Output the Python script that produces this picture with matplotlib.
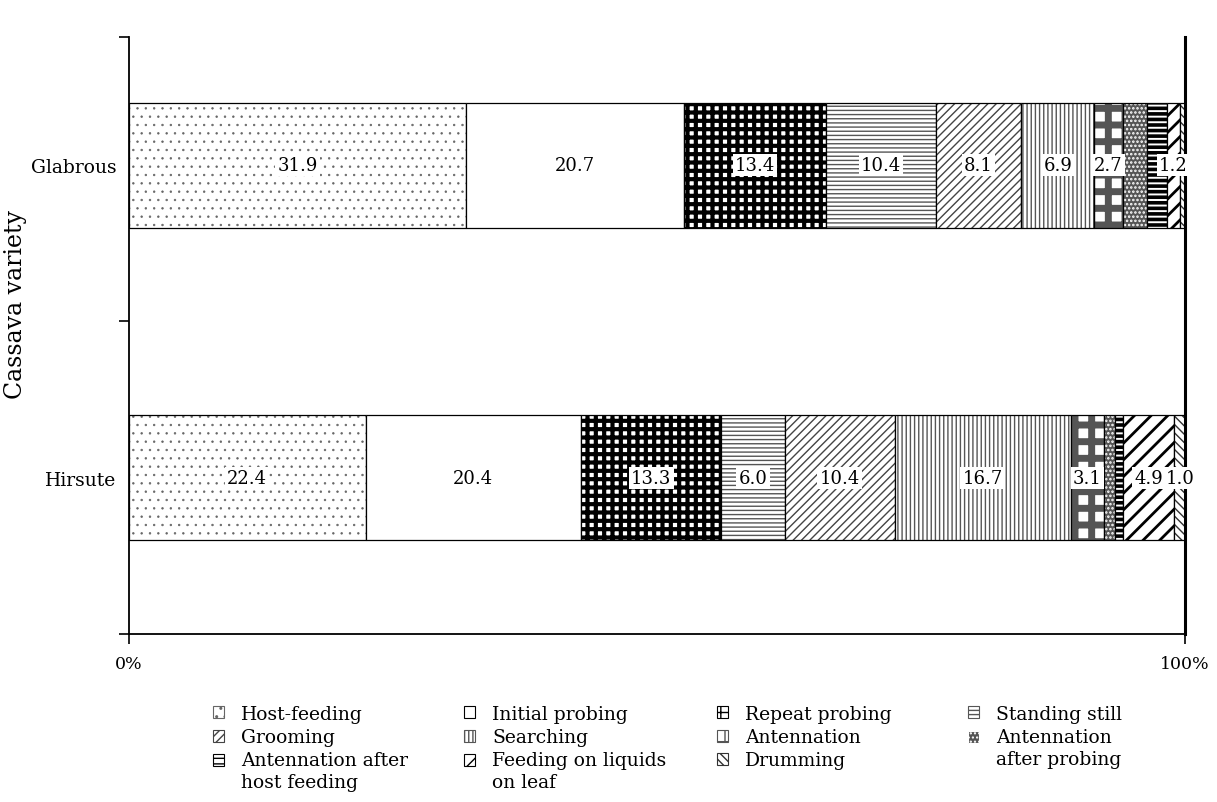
import matplotlib
matplotlib.use('Agg')
import matplotlib.pyplot as plt
from matplotlib.patches import Patch, Rectangle
from matplotlib.legend_handler import HandlerPatch

plt.rcParams['font.family'] = ['DejaVu Serif']

categories = ['Hirsute', 'Glabrous']
behaviours = ['Host-feeding', 'Initial probing', 'Repeat probing', 'Standing still',
              'Grooming', 'Searching', 'Antennation', 'Antennation\nafter probing',
              'Antennation after\nhost feeding', 'Feeding on liquids\non leaf', 'Drumming']
hirsute = [22.4, 20.4, 13.3, 6.0, 10.4, 16.7, 3.1, 1.1, 0.7, 4.9, 1.0]
glabrous = [31.9, 20.7, 13.4, 10.4, 8.1, 6.9, 2.7, 2.3, 1.9, 1.2, 0.5]
hirsute_labels = ['22.4', '20.4', '13.3', '6.0', '10.4', '16.7', '3.1', '', '', '4.9', '1.0']
glabrous_labels = ['31.9', '20.7', '13.4', '10.4', '8.1', '6.9', '2.7', '', '', '1.2', '']
xtick_labels = ['0%', '100%']

# (facecolor, hatchcolor, hatch, hatch linewidth)
styles = [
    ('white', '#666666', '..', 0.5),
    ('white', 'black', None, 1.0),
    ('white', 'black', '++', 3.0),
    ('white', '#555555', '----', 1.0),
    ('white', '#444444', '////', 1.0),
    ('white', '#555555', '||||', 1.0),
    ('white', '#555555', '+', 5.0),
    ('#555555', 'white', '....', 1.2),
    ('white', 'black', '---', 2.6),
    ('white', 'black', '//', 2.0),
    ('white', '#333333', '\\\\\\\\', 1.0),
]

fig = plt.figure(figsize=(12.17, 8.03), dpi=100)
ax = fig.add_axes([129/1217, 1-635/803, (1185-129)/1217, (635-38)/803])


def styled(p, st):
    face, hc, hatch, hlw = st
    p.set_facecolor(face)
    p.set_edgecolor(hc)
    p.set_linewidth(0)
    if hatch:
        p.set_hatch(hatch)
        if hasattr(p, 'set_hatch_linewidth'):
            p.set_hatch_linewidth(hlw)


series = [hirsute, glabrous]
labels = [hirsute_labels, glabrous_labels]
for yi, (vals, labs) in enumerate(zip(series, labels)):
    left = 0.0
    for i, v in enumerate(vals):
        bars = ax.barh(yi, v, left=left, height=0.4)
        for p in bars:
            styled(p, styles[i])
        ax.barh(yi, v, left=left, height=0.4, fill=False, edgecolor='black', linewidth=0.9)
        if labs[i]:
            ax.text(left + v/2, yi, labs[i], ha='center', va='center', fontsize=13,
                    bbox=dict(facecolor='white', edgecolor='none', pad=1.5))
        left += v

ax.set_xlim(0, 100)
ax.set_ylim(-0.5, 1.41)
ax.spines['top'].set_visible(False)
for s in ['left', 'bottom']:
    ax.spines[s].set_linewidth(1.3)
ax.spines['right'].set_linewidth(2.2)

ax.set_yticks([-0.5, 0.5, 1.41])
ax.set_yticklabels([])
ax.tick_params(axis='y', which='major', direction='out', length=7, width=1.2)
ax.set_yticks([0, 1], minor=True)
ax.set_yticklabels(categories, minor=True, fontsize=13.5)
ax.tick_params(axis='y', which='minor', length=0, pad=9)

ax.set_xticks([0, 100])
ax.set_xticklabels(xtick_labels, fontsize=12.5)
ax.tick_params(axis='x', direction='out', length=7, width=1.2, pad=8)

ax.set_ylabel('Cassava variety', fontsize=17)
ax.yaxis.set_label_coords(-0.097, 0.553)


class TopHandler(HandlerPatch):
    def __init__(self, nlines, **kw):
        super().__init__(**kw)
        self.nlines = nlines

    def create_artists(self, legend, orig_handle, xdescent, ydescent, width, height,
                       fontsize, trans):
        shift = (self.nlines - 1) * fontsize * 1.27 * 0.5
        p = Rectangle((-xdescent, -ydescent + shift), width, height)
        self.update_prop(p, orig_handle, legend)
        p.set_transform(trans)
        return [p]


# legend in 4 columns, row-major order
order_cols = [[0, 4, 8], [1, 5, 9], [2, 6, 10], [3, 7]]
col_x = [213, 464, 717, 968]
for cx, idxs in zip(col_x, order_cols):
    handles = []
    hmap = {}
    for i in idxs:
        h = Patch(label=behaviours[i])
        styled(h, styles[i])
        h.set_edgecolor(styles[i][1])
        h.set_linewidth(0.8)
        handles.append(h)
        hmap[h] = TopHandler(behaviours[i].count('\n') + 1)
    leg = fig.legend(handles=handles, handler_map=hmap, loc='upper left',
                     bbox_to_anchor=(cx/1217, 1-706/803),
                     frameon=False, fontsize=13.5, handlelength=0.6, handleheight=0.6,
                     handletextpad=0.9, labelspacing=0.28, borderpad=0, borderaxespad=0)
    for t in leg.get_texts():
        t.set_linespacing(1.27)

fig.savefig('out.png', dpi=100)
